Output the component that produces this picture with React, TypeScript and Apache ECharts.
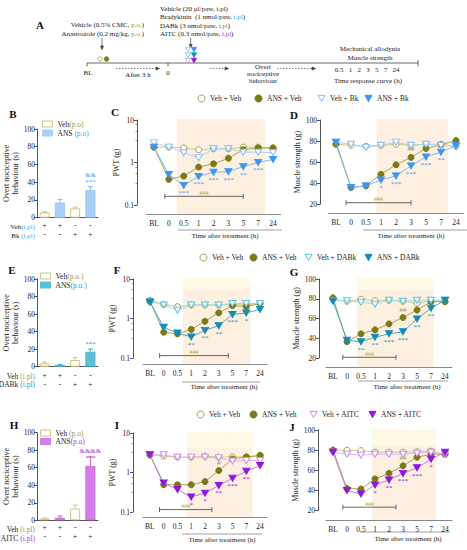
import React, { useEffect, useRef } from "react";
import * as echarts from "echarts";

const FONT = "'Liberation Serif', 'DejaVu Serif', serif";
const TXT = "#222";
const AX = "#555";
const TRI = "path://M0,0L10,0L5,9Z";

// ---------- categories / tick labels ----------
const timeLabels = ["BL", "0", "0.5", "1", "2", "3", "5", "7", "24"];
const barGroups = ["Veh + Veh", "ANS + Veh", "Veh + drug", "ANS + drug"];
const pretreat = ["Veh", "ANS", "Veh", "ANS"];
const vehRow = ["+", "+", "-", "-"];
const drugRow = ["-", "-", "+", "+"];

// ---------- B: overt nociceptive behaviour, bradykinin ----------
const bkOvert = [6, 17, 10.5, 31];
const bkOvertErr = [0.8, 3.5, 1.5, 4];
const bkOvertMarks = ["", "", "", "&&\n***"];
// ---------- E: DABk ----------
const dabkOvert = [3.8, 1.9, 7.6, 17];
const dabkOvertErr = [1.5, 0.8, 3, 3];
const dabkOvertMarks = ["", "", "", "***"];
// ---------- H: AITC ----------
const aitcOvert = [2, 3, 13.5, 62];
const aitcOvertErr = [0.6, 2, 3.8, 10.5];
const aitcOvertMarks = ["", "", "", "&&&&\n***"];

// ---------- C: PWT (g), bradykinin ----------
const pwtBkVehVeh = [2.3, 2.3, 2.2, 2.0, 2.1, 2.1, 2.3, 2.3, 2.2];
const pwtBkAnsVeh = [2.3, 0.4, 0.48, 0.78, 0.93, 1.26, 2.0, 2.2, 2.2];
const pwtBkVehBk = [2.9, 2.3, 1.7, 1.3, 2.1, 2.1, 1.75, 1.75, 1.7];
const pwtBkAnsBk = [2.3, 0.52, 0.29, 0.47, 0.59, 0.61, 0.8, 1.0, 1.18];
const pwtBkStars = ["", "", "***", "***", "***", "***", "**", "***", ""];
const pwtBkHash = ["", "", "", "", "", "", "", "", ""];
// ---------- D: muscle strength, bradykinin ----------
const msBkVehVeh = [77, 76, 75, 76, 77, 76, 77, 77, 75];
const msBkAnsVeh = [77, 36, 37.5, 48.5, 57.5, 64.5, 73, 76.5, 80.5];
const msBkVehBk = [79, 77, 74, 76, 79, 76, 77, 76, 75];
const msBkAnsBk = [79, 36, 37.5, 43, 47, 56.5, 65, 69.5, 75.5];
const msBkStars = ["", "", "", "*", "***", "***", "***", "**", ""];
const msBkHash = ["", "", "", "", "", "##", "", "", ""];
// ---------- F: PWT, DABk ----------
const pwtDaVehVeh = [2.9, 2.26, 2.0, 2.2, 2.2, 2.2, 2.26, 2.2, 2.4];
const pwtDaAnsVeh = [2.7, 0.45, 0.41, 0.53, 0.85, 1.39, 2.13, 2.0, 2.4];
const pwtDaVehDa = [2.7, 2.2, 1.62, 2.2, 2.2, 2.2, 2.4, 2.4, 2.4];
const pwtDaAnsDa = [2.6, 0.6, 0.43, 0.34, 0.5, 0.66, 1.26, 1.39, 1.69];
const pwtDaStars = ["", "", "", "**", "**", "**", "***", "*", ""];
const pwtDaHash = ["", "", "", "", "", "", "", "", ""];
// ---------- G: muscle strength, DABk ----------
const msDaVehVeh = [79.5, 77.5, 79.5, 78, 78.5, 77.5, 75.5, 78, 77];
const msDaAnsVeh = [81, 36.5, 44.5, 48.5, 54.5, 61, 68.5, 77, 77];
const msDaVehDa = [78, 78, 76.5, 74.5, 78.5, 77.5, 78.5, 78.5, 78.5];
const msDaAnsDa = [77.5, 38, 36.5, 41, 44.5, 46.5, 59.5, 70.5, 78.5];
const msDaStars = ["", "", "**", "**", "***", "***", "**", "**", ""];
const msDaHash = ["", "", "", "", "", "##", "", "", ""];
// ---------- I: PWT, AITC ----------
const pwtAiVehVeh = [2.8, 2.6, 2.45, 2.45, 2.6, 2.45, 2.5, 2.5, 2.7];
const pwtAiAnsVeh = [2.8, 0.49, 0.49, 0.49, 0.59, 1.12, 2.2, 2.45, 2.7];
const pwtAiVehAi = [2.8, 2.8, 2.45, 2.45, 2.45, 2.35, 1.95, 2.0, 2.0];
const pwtAiAnsAi = [2.8, 0.54, 0.37, 0.24, 0.3, 0.47, 0.72, 1.08, 1.5];
const pwtAiStars = ["", "", "", "*", "*", "**", "***", "**", ""];
const pwtAiHash = ["", "", "", "", "", "#", "", "", ""];
// ---------- J: muscle strength, AITC ----------
const msAiVehVeh = [80, 80, 79.5, 78, 78, 78, 78.5, 79, 76];
const msAiAnsVeh = [80, 42, 41.5, 51.5, 57, 64.5, 73, 76, 76];
const msAiVehAi = [78, 76, 75, 76, 76, 76, 77, 78, 76];
const msAiAnsAi = [78, 40, 36.5, 45.5, 50.5, 57, 62.5, 71, 78];
const msAiStars = ["", "", "", "*", "**", "***", "***", "*", ""];
const msAiHash = ["", "", "", "", "", "##", "", "", ""];

// significance brackets: [from index, to index, y value]
const pwtBkBracket = [0.73, 6, 0.16];
const msBkBracket = [0.67, 5, 21.5];
const pwtDaBracket = [0.7, 5.7, 0.115];
const msDaBracket = [0.7, 4.5, 20.7];
const pwtAiBracket = [0.7, 4.5, 0.115];
const msAiBracket = [0.7, 4.5, 23.5];

// ---------- styles ----------
const OLIVE = "#7b7816";
const STY: any = {
  vehVeh: { sym: "circle", fill: "#ffffff", stroke: "#a59f4a", line: "#d2cb95" },
  ansVeh: { sym: "circle", fill: OLIVE, stroke: OLIVE, line: "#aaa452" },
  vehBk: { sym: TRI, fill: "#ffffff", stroke: "#86c0f4", line: "#aad3f8" },
  ansBk: { sym: TRI, fill: "#3d97ee", stroke: "#3d97ee", line: "#7db8f3" },
  vehDa: { sym: TRI, fill: "#ffffff", stroke: "#5cc4dc", line: "#9adbe9" },
  ansDa: { sym: TRI, fill: "#148cb6", stroke: "#148cb6", line: "#45aacb" },
  vehAi: { sym: TRI, fill: "#ffffff", stroke: "#d08af2", line: "#e0b0f5" },
  ansAi: { sym: TRI, fill: "#9316e0", stroke: "#9316e0", line: "#c27aea" },
};
const PEACH = "#fdf0e1";
const PALE = "#fefae6";
const VEH_BAR = "#cfc57e";

const barPanels = [
  { grid: { left: 37, top: 129, width: 61, height: 88.7 }, values: bkOvert, errs: bkOvertErr, marks: bkOvertMarks, color: "#a8d0f7", border: "#86bdf0", mark: "#4a9ff0", margin: 3.5 },
  { grid: { left: 37, top: 279, width: 61, height: 87.7 }, values: dabkOvert, errs: dabkOvertErr, marks: dabkOvertMarks, color: "#5bbfd6", border: "#3aaecb", mark: "#1a9cc0", margin: 4 },
  { grid: { left: 37, top: 432.7, width: 61, height: 87.6 }, values: aitcOvert, errs: aitcOvertErr, marks: aitcOvertMarks, color: "#d67de9", border: "#c860e0", mark: "#b030e8", margin: 3 },
];

const linePanels = [
  { grid: { left: 146.5, top: 120, width: 134, height: 85 }, yOff: 9.5, xOff: 9, log: true, name: "PWT (g)", nameGap: 12, shade: [1.53, 7.47], band: 0, bracket: pwtBkBracket,
    lines: [["Veh + Veh", pwtBkVehVeh, "vehVeh"], ["ANS + Veh", pwtBkAnsVeh, "ansVeh"], ["Veh + Bk", pwtBkVehBk, "vehBk"], ["ANS + Bk", pwtBkAnsBk, "ansBk"]], stars: pwtBkStars, hash: pwtBkHash },
  { grid: { left: 328.5, top: 120, width: 135, height: 84.3 }, yOff: 8.5, xOff: 8.7, log: false, name: "Muscle strength (g)", nameGap: 11, shade: [2.7, 7.47], band: 0, bracket: msBkBracket,
    lines: [["Veh + Veh", msBkVehVeh, "vehVeh"], ["ANS + Veh", msBkAnsVeh, "ansVeh"], ["Veh + Bk", msBkVehBk, "vehBk"], ["ANS + Bk", msBkAnsBk, "ansBk"]], stars: msBkStars, hash: msBkHash },
  { grid: { left: 143.1, top: 279, width: 123.75, height: 79 }, yOff: 10, xOff: 6, log: true, name: "PWT (g)", nameGap: 7, shade: [2.4, 7.3], band: 12, bracket: pwtDaBracket,
    lines: [["Veh + Veh", pwtDaVehVeh, "vehVeh"], ["ANS + Veh", pwtDaAnsVeh, "ansVeh"], ["Veh + DABk", pwtDaVehDa, "vehDa"], ["ANS + DABk", pwtDaAnsDa, "ansDa"]], stars: pwtDaStars, hash: pwtDaHash },
  { grid: { left: 326, top: 279, width: 126, height: 79 }, yOff: 7, xOff: 9, log: false, name: "Muscle strength (g)", nameGap: 17, shade: [1.7, 7.2], band: 12, bracket: msDaBracket,
    lines: [["Veh + Veh", msDaVehVeh, "vehVeh"], ["ANS + Veh", msDaAnsVeh, "ansVeh"], ["Veh + DABk", msDaVehDa, "vehDa"], ["ANS + DABk", msDaAnsDa, "ansDa"]], stars: msDaStars, hash: msDaHash },
  { grid: { left: 143, top: 433, width: 124, height: 79 }, yOff: 10, xOff: 5, log: true, name: "PWT (g)", nameGap: 7, shade: [2.7, 7.45], band: 16, bracket: pwtAiBracket,
    lines: [["Veh + Veh", pwtAiVehVeh, "vehVeh"], ["ANS + Veh", pwtAiAnsVeh, "ansVeh"], ["Veh + AITC", pwtAiVehAi, "vehAi"], ["ANS + AITC", pwtAiAnsAi, "ansAi"]], stars: pwtAiStars, hash: pwtAiHash },
  { grid: { left: 326, top: 430, width: 126, height: 80.7 }, yOff: 8, xOff: 10, log: false, name: "Muscle strength (g)", nameGap: 17, shade: [2.8, 7.35], band: 17, bracket: msAiBracket,
    lines: [["Veh + Veh", msAiVehVeh, "vehVeh"], ["ANS + Veh", msAiAnsVeh, "ansVeh"], ["Veh + AITC", msAiVehAi, "vehAi"], ["ANS + AITC", msAiAnsAi, "ansAi"]], stars: msAiStars, hash: msAiHash },
];

// legend rows: [series name, style key, icon centre x, icon centre y]
const legendItems: any[] = [
  ["Veh + Veh", "vehVeh", 201, 98], ["ANS + Veh", "ansVeh", 258, 98], ["Veh + Bk", "vehBk", 321, 98], ["ANS + Bk", "ansBk", 368, 98],
  ["Veh + Veh", "vehVeh", 203, 257], ["ANS + Veh", "ansVeh", 253, 257], ["Veh + DABk", "vehDa", 308, 257], ["ANS + DABk", "ansDa", 368, 257],
  ["Veh + Veh", "vehVeh", 200, 414], ["ANS + Veh", "ansVeh", 253, 414], ["Veh + AITC", "vehAi", 313, 414], ["ANS + AITC", "ansAi", 372, 414],
];

const tickLabel = { fontSize: 7.5, color: TXT, fontFamily: FONT };

function rich(color: string, size = 7) {
  return {
    a: { fontSize: size, fontFamily: FONT, fill: TXT, color: TXT },
    b: { fontSize: size, fontFamily: FONT, fill: color, color: color },
  };
}
function txt(x: number, y: number, text: string, o: any = {}) {
  const align = o.align || "left";
  return {
    type: "text", x, y, silent: true,
    style: {
      text, fill: o.color || TXT, fontSize: o.size || 7.5, fontFamily: FONT, fontWeight: o.weight || "normal",
      align, textAlign: align, verticalAlign: "middle", textVerticalAlign: "middle", rich: o.rich,
    },
  };
}
function ln(x1: number, y1: number, x2: number, y2: number, o: any = {}) {
  return { type: "line", silent: true, shape: { x1, y1, x2, y2 }, style: { stroke: o.color || "#444", lineWidth: o.w || 0.8, lineDash: o.dash } };
}
function poly(points: number[][], fill: string, stroke: string) {
  return { type: "polygon", silent: true, shape: { points }, style: { fill, stroke, lineWidth: 0.8 } };
}
function downTri(cx: number, cy: number, fill: string, stroke: string) {
  return poly([[cx - 2.6, cy - 2.2], [cx + 2.6, cy - 2.2], [cx, cy + 2.4]], fill, stroke);
}

function buildOption() {
  const grid: any[] = [];
  const xAxis: any[] = [];
  const yAxis: any[] = [];
  const series: any[] = [];
  const legend: any[] = [];

  // ----- bar panels -----
  barPanels.forEach((p) => {
    const gi = grid.length;
    grid.push({ ...p.grid, outerBoundsMode: "none" });
    xAxis.push({
      gridIndex: gi, type: "category", data: barGroups,
      axisTick: { show: false }, axisLine: { lineStyle: { color: AX, width: 1 } },
      axisLabel: { ...tickLabel, interval: 0, margin: p.margin, lineHeight: 9, formatter: (_v: any, i: number) => vehRow[i] + "\n" + drugRow[i] },
    });
    yAxis.push({
      gridIndex: gi, type: "value", min: 0, max: 100, interval: 20,
      name: "Overt nociceptive\nbehaviour (s)", nameLocation: "middle", nameGap: 12,
      nameTextStyle: { fontSize: 8, lineHeight: 9, color: TXT, fontFamily: FONT },
      axisLine: { show: true, lineStyle: { color: AX, width: 1 } },
      axisTick: { show: true, length: 3, lineStyle: { color: AX } },
      splitLine: { show: false },
      axisLabel: { ...tickLabel, margin: 2 },
    });
    ["Veh", "ANS"].forEach((pre) => {
      series.push({
        type: "bar", name: pre === "Veh" ? "Veh (p.o)" : "ANS (p.o)", xAxisIndex: gi, yAxisIndex: gi,
        barWidth: 10, barGap: "-100%",
        itemStyle: pre === "Veh" ? { color: "#ffffff", borderColor: VEH_BAR, borderWidth: 1 } : { color: p.color, borderColor: p.border, borderWidth: 0.6 },
        label: { show: false, position: "top", distance: 4, color: p.mark, fontSize: 7, lineHeight: 7.5, fontFamily: FONT },
        data: p.values.map((v, i) =>
          pretreat[i] !== pre ? "-" : p.marks[i] ? { value: v, label: { show: true, formatter: p.marks[i] } } : v
        ),
        z: 2,
      });
    });
    series.push({
      type: "custom", xAxisIndex: gi, yAxisIndex: gi, silent: true, z: 3,
      encode: { x: 0, y: 1 },
      data: p.values.map((v, i) => [i, v, p.errs[i]]),
      renderItem: (params: any, api: any) => {
        const i = api.value(0), v = api.value(1), e = api.value(2);
        const a = api.coord([i, v]);
        const b = api.coord([i, v + e]);
        const col = pretreat[params.dataIndex] === "Veh" ? VEH_BAR : p.border;
        return {
          type: "group",
          children: [
            { type: "line", shape: { x1: a[0], y1: a[1], x2: b[0], y2: b[1] }, style: { stroke: col, lineWidth: 1 } },
            { type: "line", shape: { x1: b[0] - 2.5, y1: b[1], x2: b[0] + 2.5, y2: b[1] }, style: { stroke: col, lineWidth: 1 } },
          ],
        };
      },
    });
  });

  // ----- line panels -----
  linePanels.forEach((p) => {
    const gi = grid.length;
    grid.push({ ...p.grid, outerBoundsMode: "none" });
    xAxis.push({
      gridIndex: gi, type: "value", min: -0.5, max: 8.5, offset: p.xOff,
      axisLine: { onZero: false, lineStyle: { color: "#888", width: 1 } },
      axisTick: { show: false }, splitLine: { show: false },
      axisLabel: { ...tickLabel, margin: 5, customValues: timeLabels.map((_, i) => i), formatter: (v: number) => timeLabels[Math.round(v)] ?? "" },
    });
    const yBase: any = {
      gridIndex: gi, offset: p.yOff, name: p.name, nameLocation: "middle", nameGap: p.nameGap,
      nameTextStyle: { fontSize: 8, color: TXT, fontFamily: FONT },
      axisLine: { show: true, onZero: false, lineStyle: { color: AX, width: 1 } },
      axisTick: { show: true, length: 3, lineStyle: { color: AX } },
      splitLine: { show: false },
      axisLabel: { ...tickLabel, margin: 3 },
    };
    if (p.log) {
      yAxis.push({ ...yBase, type: "log", logBase: 10, min: 0.1, max: 10,
        minorTick: { show: true, splitNumber: 4, length: 1.5, lineStyle: { color: "#999" } },
        axisLabel: { ...yBase.axisLabel, formatter: (v: number) => String(Number(Number(v).toPrecision(2))) } });
    } else {
      yAxis.push({ ...yBase, type: "value", min: 20, max: 100, interval: 20 });
    }
    const yRef = p.log ? 1 : 50;
    // shaded treatment window
    series.push({
      type: "custom", xAxisIndex: gi, yAxisIndex: gi, silent: true, z: 0, clip: false,
      encode: { x: [0, 1], y: 2 },
      data: [[p.shade[0], p.shade[1], yRef]],
      renderItem: (params: any, api: any) => {
        const cs = params.coordSys;
        const a = api.coord([api.value(0), api.value(2)]);
        const b = api.coord([api.value(1), api.value(2)]);
        const top = cs.y - 1;
        const bottom = cs.y + cs.height + p.xOff;
        const children: any[] = [
          { type: "rect", shape: { x: a[0], y: top, width: b[0] - a[0], height: bottom - top }, style: { fill: PEACH } },
        ];
        if (p.band > 0) children.push({ type: "rect", shape: { x: a[0], y: top, width: b[0] - a[0], height: p.band }, style: { fill: PALE } });
        return { type: "group", children };
      },
    });
    // lines
    p.lines.forEach((l: any, k: number) => {
      const sty = STY[l[2]];
      const marks = k === 3 ? p.stars : k === 1 ? p.hash : null;
      const labelColor = k === 1 ? "#9a9530" : sty.fill;
      series.push({
        type: "line", name: l[0], xAxisIndex: gi, yAxisIndex: gi,
        symbol: sty.sym, symbolSize: sty.sym === TRI ? [7, 6] : 6,
        itemStyle: { color: sty.fill, borderColor: sty.stroke, borderWidth: 1 },
        lineStyle: { color: sty.line, width: 1 },
        label: { show: false, position: k === 1 ? "top" : "bottom", distance: 1, color: labelColor, fontSize: 7, lineHeight: 7, fontFamily: FONT },
        data: (l[1] as number[]).map((v, i) =>
          marks && marks[i] ? { value: [i, v], label: { show: true, formatter: marks[i] } } : { value: [i, v] }
        ),
        z: 3 + k,
      });
    });
    // ### bracket
    series.push({
      type: "custom", xAxisIndex: gi, yAxisIndex: gi, silent: true, z: 2, clip: false,
      encode: { x: [0, 1], y: 2 },
      data: [p.bracket],
      renderItem: (_params: any, api: any) => {
        const a = api.coord([api.value(0), api.value(2)]);
        const b = api.coord([api.value(1), api.value(2)]);
        const st = { stroke: "#666", lineWidth: 1 };
        return {
          type: "group",
          children: [
            { type: "line", shape: { x1: a[0], y1: a[1], x2: b[0], y2: b[1] }, style: st },
            { type: "line", shape: { x1: a[0], y1: a[1] - 2.5, x2: a[0], y2: a[1] + 2.5 }, style: st },
            { type: "line", shape: { x1: b[0], y1: b[1] - 2.5, x2: b[0], y2: b[1] + 2.5 }, style: st },
            { type: "text", x: (a[0] + b[0]) / 2, y: a[1] - 0.5, style: { text: "###", fill: "#b0a840", fontSize: 6, fontFamily: FONT, align: "center", verticalAlign: "bottom" } },
          ],
        };
      },
    });
  });

  // ----- legends -----
  legendItems.forEach(([name, key, cx, cy]) => {
    const sty = STY[key];
    legend.push({
      data: [{ name, icon: sty.sym === TRI ? TRI : "circle", itemStyle: { color: sty.fill, borderColor: sty.stroke, borderWidth: 1 } }],
      left: cx - 3.5, top: cy - 3.5, padding: 0, itemWidth: 7, itemHeight: 7, selectedMode: false,
      textStyle: { fontSize: 7.5, fontFamily: FONT, color: TXT },
    });
  });
  const barLegends: any[] = [
    ["Veh (p.o)", 42, 123, "{a|Veh}{b|(p.o)}", "#9a9530", "#ffffff", VEH_BAR],
    ["ANS (p.o)", 42, 132, "{a|ANS }{b|(p.o)}", "#4a9ff0", "#a8d0f7", "#a8d0f7"],
    ["Veh (p.o)", 40, 275, "{a|Veh}{b|(p.o.)}", "#9a9530", "#ffffff", VEH_BAR],
    ["ANS (p.o)", 40, 284, "{a|ANS}{b|(p.o.)}", "#1a9cc0", "#5bbfd6", "#5bbfd6"],
    ["Veh (p.o)", 40, 432, "{a|Veh }{b|(p.o)}", "#9a9530", "#ffffff", VEH_BAR],
    ["ANS (p.o)", 40, 440.5, "{a|ANS}{b|(p.o)}", "#b030e8", "#d67de9", "#d67de9"],
  ];
  barLegends.forEach(([name, left, cy, fmt, col, fill, stroke]) => {
    legend.push({
      data: [{ name, icon: "rect", itemStyle: { color: fill, borderColor: stroke, borderWidth: 1 } }],
      left, top: cy - 3, padding: 0, itemWidth: 10, itemHeight: 6, selectedMode: false,
      formatter: () => fmt,
      textStyle: { fontSize: 7.5, fontFamily: FONT, color: TXT, rich: { a: { fontSize: 7.5, fontFamily: FONT, color: TXT }, b: { fontSize: 7.5, fontFamily: FONT, color: col } } },
    });
  });

  // ----- graphic: panel A diagram, letters, labels -----
  const g: any[] = [];
  const letters: any[] = [["A", 40, 25], ["B", 13, 114], ["C", 115, 112], ["D", 294, 115], ["E", 12, 270], ["F", 117, 270], ["G", 294, 272], ["H", 14, 425], ["I", 117, 425], ["J", 292, 427]];
  letters.forEach(([t, x, y]) => g.push(txt(x, y, t, { size: 11, weight: "bold", align: "center", color: "#111" })));

  const PO = "#8f8a20";
  g.push(txt(144, 25, "{a|Vehicle (0.5% CMC, }{b|p.o.}{a|)}", { align: "right", size: 7, rich: rich(PO) }));
  g.push(txt(144, 34, "{a|Anastrozole (0.2 mg/kg, }{b|p.o.}{a|)}", { align: "right", size: 7, rich: rich(PO) }));
  g.push(ln(102, 38, 102, 47, { w: 0.7 }));
  g.push(poly([[100.6, 46], [103.4, 46], [102, 49.5]], "#444", "#444"));
  g.push({ type: "circle", silent: true, shape: { cx: 100, cy: 59, r: 2.2 }, style: { fill: "#fff", stroke: "#a59f4a", lineWidth: 0.8 } });
  g.push({ type: "circle", silent: true, shape: { cx: 106.5, cy: 59, r: 2.3 }, style: { fill: OLIVE, stroke: OLIVE, lineWidth: 0.8 } });
  g.push(ln(87, 63, 418, 63, { w: 0.8 }));
  g.push(ln(87, 63, 87, 66.5, { w: 0.8 }));
  g.push(ln(168, 63, 168, 66.5, { w: 0.8 }));
  g.push(ln(418, 60, 418, 66.5, { w: 0.8 }));
  g.push(txt(88, 73, "BL", { size: 7, align: "center" }));
  g.push(txt(168, 73, "0", { size: 7, align: "center" }));
  g.push(ln(116, 68.5, 156, 68.5, { w: 0.7, dash: [1.5, 1.5] }));
  g.push(poly([[156, 67], [156, 70], [159.5, 68.5]], "#444", "#444"));
  g.push(txt(138, 74.5, "After 3 h", { size: 7, align: "center" }));
  g.push(txt(160, 8.5, "Vehicle (20 µl/paw, i.pl)", { size: 7 }));
  g.push(txt(160, 17, "{a|Bradykinin  (1 nmol/paw, }{b|i.pl}{a|)}", { size: 7, rich: rich("#4a9ff0") }));
  g.push(txt(160, 25.5, "{a|DABk (3 nmol/paw, }{b|i.pl}{a|)}", { size: 7, rich: rich("#1a9cc0") }));
  g.push(txt(160, 34, "{a|AITC (0.3 nmol/paw, }{b|i.pl}{a|)}", { size: 7, rich: rich("#b030e8") }));
  g.push(ln(190.7, 38, 190.7, 45, { w: 0.7 }));
  g.push(poly([[189.3, 44.5], [192.1, 44.5], [190.7, 47.5]], "#444", "#444"));
  [[49.5, "vehBk", "ansBk"], [55, "vehDa", "ansDa"], [60.5, "vehAi", "ansAi"]].forEach(([y, o, f]: any) => {
    g.push(downTri(188, y, "#fff", STY[o].stroke));
    g.push(downTri(194, y, STY[f].fill, STY[f].fill));
  });
  g.push(ln(210, 68.5, 225, 68.5, { w: 0.7, dash: [1.5, 1.5] }));
  g.push(poly([[225, 67], [225, 70], [228.5, 68.5]], "#444", "#444"));
  g.push(txt(263, 66.5, "Overt", { size: 7, align: "center" }));
  g.push(txt(263, 73.5, "nociceptive", { size: 7, align: "center" }));
  g.push(txt(263, 80.5, "behaviour", { size: 7, align: "center" }));
  g.push(ln(277, 68.5, 312, 68.5, { w: 0.7, dash: [1.5, 1.5] }));
  g.push(poly([[312, 67], [312, 70], [315.5, 68.5]], "#444", "#444"));
  g.push(txt(370, 49, "Mechanical allodynia", { size: 7, align: "center" }));
  g.push(txt(370, 57.5, "Muscle strength", { size: 7, align: "center" }));
  g.push(txt(367, 70, "0.5   1   2   3   5   7   24", { size: 7, align: "center" }));
  g.push(txt(368, 81, "Time response curve (h)", { size: 7, align: "center" }));

  // time-after-treatment sub-axis titles
  const timeTitles = [[178, 282, 230, 225, 236], [363, 467, 230, 411, 236], [182, 260, 382, 224, 387], [358, 448, 381, 407, 387], [182, 262, 534, 222, 540], [360, 450, 532, 408, 539]];
  timeTitles.forEach(([x1, x2, y, tx, ty]) => {
    g.push(ln(x1, y, x2, y, { w: 0.8, color: "#888" }));
    g.push(txt(tx, ty, "Time after treatment (h)", { size: 7, align: "center" }));
  });

  // bar row labels
  const OL = "#a8a030";
  g.push(txt(35, 226.5, "{a|Veh}{b|(i.pl)}", { align: "right", size: 7, rich: rich("#4a9ff0", 7) }));
  g.push(txt(35, 235.5, "{a|Bk }{b|(i.pl)}", { align: "right", size: 7, rich: rich("#4a9ff0", 7) }));
  g.push(txt(35, 376, "{a|Veh }{b|(i.pl)}", { align: "right", size: 7.5, rich: rich(OL, 7.5) }));
  g.push(txt(35, 384.5, "{a|DABk }{b|(i.pl)}", { align: "right", size: 7.5, rich: rich("#1a9cc0", 7.5) }));
  g.push(txt(35, 529, "{a|Veh }{b|(i.pl)}", { align: "right", size: 7.5, rich: rich(OL, 7.5) }));
  g.push(txt(35, 538, "{a|AITC }{b|(i.pl)}", { align: "right", size: 7.5, rich: rich("#b030e8", 7.5) }));

  return {
    animation: false,
    backgroundColor: "#ffffff",
    textStyle: { fontFamily: FONT },
    grid, xAxis, yAxis, series, legend,
    graphic: { elements: g },
  };
}

export default function App() {
  const ref = useRef<HTMLDivElement>(null);
  useEffect(() => {
    if (!ref.current) return;
    const chart = echarts.init(ref.current, null, { renderer: "svg" });
    chart.setOption(buildOption() as any);
    return () => chart.dispose();
  }, []);
  return <div ref={ref} style={{ position: "absolute", left: 0, top: 0, width: 467, height: 550, background: "#fff" }} />;
}
